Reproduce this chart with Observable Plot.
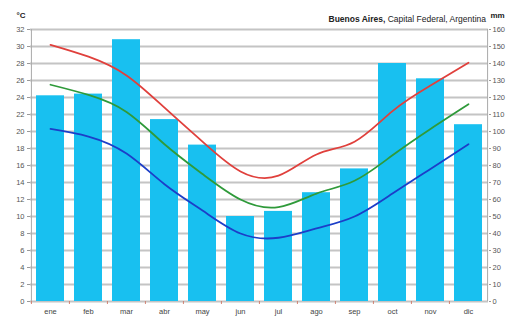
<!DOCTYPE html>
<html><head><meta charset="utf-8">
<script src="https://cdn.jsdelivr.net/npm/d3@7"></script>
<script src="https://cdn.jsdelivr.net/npm/@observablehq/plot@0.6"></script>
<style>
body{margin:0;background:#fff;}
#c{position:relative;width:508px;height:317px;font-family:"Liberation Sans",Arial,sans-serif;}
</style></head>
<body><div id="c"></div>
<script>
const months = ["ene","feb","mar","abr","may","jun","jul","ago","sep","oct","nov","dic"];
const precip = [121,122,154,107,92,50,53,64,78,140,131,104];
const tmax = [30.2,28.8,26.6,22.8,18.8,15.3,14.8,17.3,18.8,22.4,25.4,28.1];
const tmean = [25.5,24.3,22.3,18.5,15.0,12.0,11.1,12.7,14.2,17.2,20.3,23.2];
const tmin = [20.3,19.4,17.4,13.8,10.7,8.0,7.5,8.6,10.0,12.7,15.6,18.5];
const yTicks = d3.range(0,33,2);
const titleBold = "Buenos Aires,";
const titleRest = " Capital Federal, Argentina";

const rows = months.map((m,i)=>({m, p: precip[i], max: tmax[i], mean: tmean[i], min: tmin[i]}));
const mL = 30, mR = 20;
const bw = (508-mL-mR)/12;

const chart = Plot.plot({
  width: 508, height: 317,
  marginLeft: mL, marginRight: mR, marginTop: 29, marginBottom: 16,
  style: {fontFamily: "Liberation Sans, Arial, sans-serif", fontSize: "7.5px", color: "#555", background: "#fff"},
  x: {type: "band", domain: months, paddingInner: 0.26, paddingOuter: 0.13, label: null},
  y: {domain: [0,32], label: null},
  marks: [
    Plot.ruleY(yTicks, {stroke: "#c4c4c4", strokeWidth: 2}),
    Plot.barY(rows, {x: "m", y: d => d.p/5, fill: "#18c0f0"}),
    Plot.ruleX(months, {x: d=>d, dx: -bw/2, y1: 0, y2: -0.35, stroke: "#d08070"}),
    Plot.axisY({ticks: yTicks, tickSize: 3, tickPadding: 3, stroke: "#999", fill: "#555", anchor: "left"}),
    Plot.axisY({ticks: yTicks, tickSize: 2, tickPadding: 2, anchor: "right", tickFormat: d => d*5, fill: "#555", stroke: "#999"}),
    Plot.ruleX([0], {x: () => months[0], dx: -bw/2, y1: 0, y2: 32, stroke: "#aaa"}),
    Plot.ruleX([0], {x: () => months[11], dx: bw/2, y1: 0, y2: 32, stroke: "#aaa"}),
    Plot.axisX({tickSize: 0, tickPadding: 7, fill: "#444"}),
    Plot.line(rows, {x: "m", y: "max", stroke: "#e0403c", strokeWidth: 1.8, curve: "natural"}),
    Plot.line(rows, {x: "m", y: "mean", stroke: "#2f9a3a", strokeWidth: 1.8, curve: "natural"}),
    Plot.line(rows, {x: "m", y: "min", stroke: "#1c3ec8", strokeWidth: 1.8, curve: "natural"}),
    Plot.text(["°C"], {frameAnchor: "top-left", dx: -14, dy: -17, fontWeight: "bold", fontSize: 8, fill: "#222"}),
    Plot.text(["mm"], {frameAnchor: "top-right", dx: 2, dy: -17, fontWeight: "bold", fontSize: 8, fill: "#222", textAnchor: "start"})
  ]
});
document.getElementById("c").appendChild(chart);
const t = document.createElement("div");
t.style.cssText = "position:absolute;right:22px;top:14px;font-size:8.5px;color:#222;white-space:nowrap;";
t.innerHTML = "<b>"+titleBold+"</b>"+titleRest;
document.getElementById("c").appendChild(t);
</script></body></html>
